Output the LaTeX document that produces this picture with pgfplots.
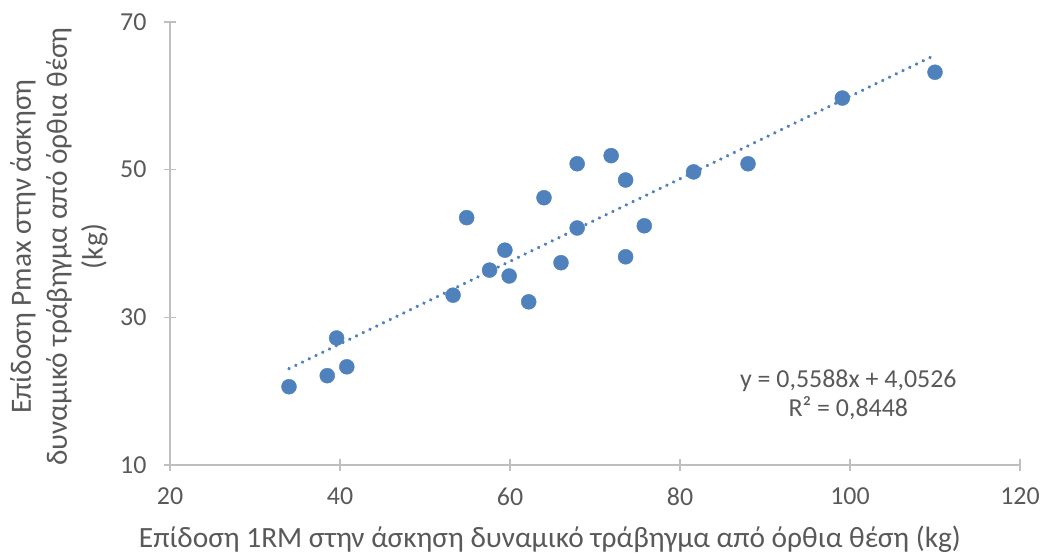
\documentclass[border=0pt]{standalone}
\usepackage{pgfplots}
\pgfplotsset{compat=1.18}
\usepackage{fontspec}
\setmainfont{Carlito}
\definecolor{pt}{RGB}{79,129,189}
\definecolor{ax}{RGB}{191,191,191}
\definecolor{tx}{RGB}{89,89,89}
\begin{document}
\begin{tikzpicture}
\begin{axis}[
  scale only axis, width=850bp, height=443bp,
  xmin=20, xmax=120, ymin=10, ymax=70,
  xtick={20,40,...,120}, ytick={10,30,50,70},
  axis x line=bottom, axis y line=left,
  axis line style={-, draw=ax, line width=1.5bp},
  tick style={draw=ax, line width=1.5bp},
  tick align=center, major tick length=12bp,
  tick label style={font=\fontsize{26}{30}\selectfont, text=tx},
  /pgf/number format/assume math mode=true,
  xticklabel style={yshift=-13bp},
  yticklabel style={xshift=-14bp},
  xlabel={Επίδοση 1RM στην άσκηση δυναμικό τράβηγμα από όρθια θέση (kg)},
  ylabel={Επίδοση Pmax στην άσκηση\\δυναμικό τράβηγμα από όρθια θέση\\(kg)},
  label style={font=\fontsize{29.5}{36}\selectfont, text=tx, inner sep=0pt},
  xlabel style={at={(axis description cs:0.447,0)}, anchor=north, yshift=-61bp},
  ylabel style={align=center, at={(axis description cs:-0.073,0.493)}, anchor=south},
  clip=false,
]
\addplot[only marks, mark=*, mark size=7.5bp, mark options={fill=pt, draw=pt}] coordinates {
(34.0,20.6) (38.5,22.1) (39.6,27.2) (40.8,23.3) (53.3,33.0) (54.9,43.5)
(57.6,36.4) (59.4,39.1) (59.9,35.6) (62.2,32.1) (64.0,46.2) (66.0,37.4)
(67.9,50.8) (67.9,42.1) (71.9,51.9) (73.6,48.6) (73.6,38.2) (75.8,42.4)
(81.6,49.7) (88.0,50.8) (99.1,59.7) (110.0,63.2)
};
\addplot[pt, line width=3.6bp, dash pattern=on 0.1bp off 7.4bp, line cap=round] coordinates {
(34.0,23.05) (110.0,65.52)
};
\node[align=center, text=tx, font=\fontsize{26}{29}\selectfont] at (axis cs:99.8,19.5) {y = 0,5588x + 4,0526\\R² = 0,8448};
\end{axis}
\path[use as bounding box] (current axis.south west) ++(-170bp,-91bp) rectangle ++(1045bp,556bp);
\end{tikzpicture}
\end{document}
